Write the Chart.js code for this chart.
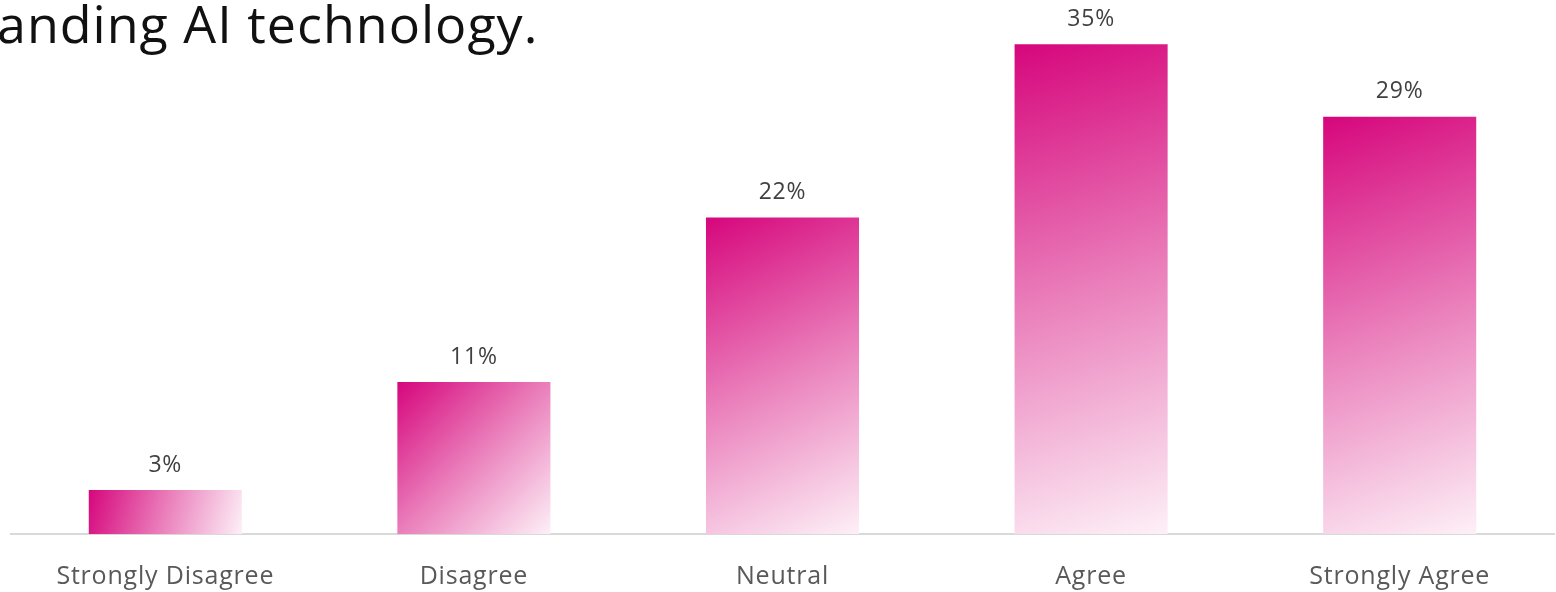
<!DOCTYPE html>
<html>
<head>
<meta charset="utf-8">
<script src="https://cdn.jsdelivr.net/npm/chart.js@4/dist/chart.umd.min.js"></script>
<style>
  html, body { margin: 0; padding: 0; background: #fff; overflow: hidden; }
  #wrap { position: relative; width: 1556px; height: 592px; }
  #title {
    position: absolute; left: -3px; top: -9px;
    font-family: "Open Sans", sans-serif; font-size: 52px; color: #111;
    letter-spacing: 1px; white-space: nowrap; line-height: 64px;
  }
</style>
</head>
<body>
<div id="wrap">
  <canvas id="chart" width="1556" height="592"></canvas>
  <div id="title">anding AI technology.</div>
</div>
<script>
const categories = ["Strongly Disagree", "Disagree", "Neutral", "Agree", "Strongly Agree"];
const shares = [3.1, 10.7, 22.3, 34.5, 29.4];
const BAR_PCT = 0.496;

// per-bar diagonal gradient: dark magenta top-left, pale pink bottom-right
function barGradient(context) {
  const chart = context.chart;
  const xs = chart.scales.x;
  const ys = chart.scales.y;
  if (!chart.chartArea || !xs || !ys) return "#d6067c";
  const i = context.dataIndex;
  const x = xs.getPixelForValue(i);
  const top = ys.getPixelForValue(shares[i]);
  const base = ys.getPixelForValue(0);
  const half = (chart.chartArea.width / categories.length) * BAR_PCT / 2;
  if (![x, top, base, half].every(Number.isFinite)) return "#d6067c";
  const g = chart.ctx.createLinearGradient(x - half, top, x + half, base);
  g.addColorStop(0, "#d6067c");
  g.addColorStop(0.5, "#ea7fbb");
  g.addColorStop(1, "#fdf0f7");
  return g;
}

// the original font runs a little wider than Open Sans
const spacing = {
  id: "spacing",
  beforeDraw(chart) {
    chart.ctx.letterSpacing = "0.8px";
  },
};

const valueLabels = {
  id: "valueLabels",
  afterDatasetsDraw(chart) {
    const ctx = chart.ctx;
    ctx.save();
    ctx.font = "23px 'Open Sans', sans-serif";
    ctx.fillStyle = "#404040";
    ctx.textAlign = "center";
    ctx.textBaseline = "middle";
    chart.getDatasetMeta(0).data.forEach((bar, i) => {
      ctx.fillText(Math.round(shares[i]) + "%", bar.x, bar.y - 25);
    });
    ctx.restore();
  },
};

const chart = new Chart(document.getElementById("chart"), {
  type: "bar",
  data: {
    labels: categories,
    datasets: [
      {
        data: shares,
        backgroundColor: barGradient,
        barPercentage: BAR_PCT,
        categoryPercentage: 1,
      },
    ],
  },
  options: {
    responsive: false,
    animation: false,
    layout: { padding: { left: 11, right: 2, top: 23, bottom: 0 } },
    plugins: { legend: { display: false }, tooltip: { enabled: false } },
    scales: {
      x: {
        grid: { display: false, drawTicks: false },
        border: { display: true, color: "#d9d9d9", width: 2 },
        ticks: { color: "#595959", font: { family: "'Open Sans', sans-serif", size: 25 }, padding: 28 },
        afterFit(scale) { scale.height = 58; },
      },
      y: { display: false, min: 0, max: 36 },
    },
  },
  plugins: [spacing, valueLabels],
});
// second pass so the gradients see final scale geometry
chart.update("none");
</script>
</body>
</html>
